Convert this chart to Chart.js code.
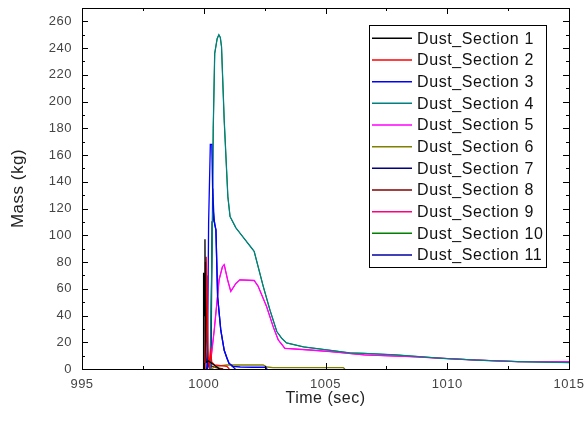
<!DOCTYPE html>
<html>
<head>
<meta charset="utf-8">
<script src="https://cdn.jsdelivr.net/npm/chart.js@4.4.1/dist/chart.umd.min.js"></script>
<style>
  body { margin: 0; background: #fff; }
  canvas { display: block; }
</style>
</head>
<body>
<canvas id="massChart" width="585" height="421"></canvas>
<script>
// series names + colours, in legend order
var sectionNames = ['Dust_Section 1', 'Dust_Section 2', 'Dust_Section 3', 'Dust_Section 4',
    'Dust_Section 5', 'Dust_Section 6', 'Dust_Section 7', 'Dust_Section 8',
    'Dust_Section 9', 'Dust_Section 10', 'Dust_Section 11'];
var sectionColors = ['#000000', '#ff0000', '#0000ff', '#008080', '#ff00ff', '#808000',
    '#000080', '#800000', '#ff0080', '#008000', '#0000a0'];

// axis ticks
var timeTicks = [995, 1000, 1005, 1010, 1015];
var massTicks = [0, 20, 40, 60, 80, 100, 120, 140, 160, 180, 200, 220, 240, 260];

// time (sec) / mass (kg)
var time1 = [999.97, 999.98, 999.99, 1000.01, 1000.03, 1000.05, 1000.07, 1000.1, 1000.2, 1000.35, 1000.5, 1000.65];
var mass1 = [0, 24, 5, 72, 40, 97, 30, 5, 6, 4, 2, 0];

var time2 = [1000.05, 1000.08, 1000.1, 1000.14, 1000.18, 1000.22, 1000.28, 1000.33, 1000.45, 1000.7, 1000.95, 1001.05];
var mass2 = [0, 60, 84, 50, 10, 3, 13, 5, 3, 2.5, 2, 0];

var time3 = [1000.15, 1000.2, 1000.27, 1000.33, 1000.38, 1000.45, 1000.5, 1000.57, 1000.7, 1000.84, 1000.95, 1001.04, 1001.2, 1001.5, 1002.0, 1002.55, 1002.6];
var mass3 = [0, 110, 168, 168, 120, 108, 104, 54, 29, 14, 8, 4.3, 2, 1.5, 1.3, 1.3, 0];

var time4 = [1000.26, 1000.35, 1000.39, 1000.45, 1000.55, 1000.62, 1000.68, 1000.73, 1000.84, 1000.99, 1001.08, 1001.32, 1001.6, 1001.9, 1002.07, 1002.44, 1002.72, 1003.0, 1003.2, 1003.4, 1004.1, 1005.2, 1006.0, 1006.6, 1007.9, 1009.8, 1011.2, 1012.9, 1015.0];
var mass4 = [0, 100, 180, 236, 247, 250, 248, 241, 186, 129, 114, 105.6, 99, 92, 88, 62, 44, 28, 23, 19.5, 16.5, 14, 12, 11.7, 10.5, 8, 6.7, 5.5, 4.8];

var time5 = [1000.25, 1000.43, 1000.63, 1000.77, 1000.84, 1000.98, 1001.11, 1001.32, 1001.48, 1002.07, 1002.23, 1002.58, 1002.85, 1003.06, 1003.33, 1004.36, 1005.2, 1006.6, 1008.5, 1011.2, 1012.9, 1015.0];
var mass5 = [0, 29, 66.7, 76.6, 78, 66.7, 58, 64, 66.7, 66.2, 62, 46.7, 31.7, 21.7, 15.5, 14.2, 13, 10.5, 9.2, 6.7, 5.5, 5.5];

var time6 = [1000.3, 1000.5, 1000.94, 1002.44, 1002.6, 1002.85, 1005.73, 1005.8];
var mass6 = [0, 2, 3, 3, 1.5, 1, 1, 0];

var time7 = [1000.12, 1000.15, 1000.18, 1000.25];
var mass7 = [0, 8, 3, 0];

var time8 = [1000.04, 1000.07, 1000.1, 1000.13, 1000.2, 1000.5, 1000.8];
var mass8 = [0, 80, 70, 20, 3, 1, 0];

var time9 = [1000.25, 1000.43, 1000.63, 1000.77, 1000.84, 1000.98, 1001.11, 1001.32, 1001.48, 1002.07, 1002.23, 1002.58, 1002.85, 1003.06, 1003.33, 1004.36, 1005.2, 1006.6, 1008.5, 1011.2, 1012.9, 1015.0];
var mass9 = [0, 29, 66.7, 76.6, 78, 66.7, 58, 64, 66.7, 66.2, 62, 46.7, 31.7, 21.7, 15.5, 14.2, 13, 10.5, 9.2, 6.7, 5.5, 5.5];

var time10 = [1000.26, 1000.35, 1000.39, 1000.45, 1000.55, 1000.62, 1000.68, 1000.73, 1000.84, 1000.99, 1001.08, 1001.32, 1001.6, 1001.9, 1002.07, 1002.44, 1002.72, 1003.0, 1003.2, 1003.4, 1004.1, 1005.2, 1006.0, 1006.6, 1007.9, 1009.8, 1011.2, 1012.9, 1015.0];
var mass10 = [0, 100, 180, 236, 247, 250, 248, 241, 186, 129, 114, 105.6, 99, 92, 88, 62, 44, 28, 23, 19.5, 16.5, 14, 12, 11.7, 10.5, 8, 6.7, 5.5, 4.8];

var time11 = [1000.3, 1000.34, 1000.37, 1000.42, 1000.5, 1000.57, 1000.7, 1000.84, 1001.04, 1001.3];
var mass11 = [0, 110, 135, 112, 104, 54, 29, 14, 4, 0];

var allTimes = [time1, time2, time3, time4, time5, time6, time7, time8, time9, time10, time11];
var allMasses = [mass1, mass2, mass3, mass4, mass5, mass6, mass7, mass8, mass9, mass10, mass11];
// 9 and 10 sit underneath 5 and 4
var hiddenUnder = [8, 9];

function makeDataset(i) {
    var pts = allTimes[i].map(function (t, k) { return { x: t, y: allMasses[i][k] }; });
    return {
        label: sectionNames[i],
        data: pts,
        borderColor: sectionColors[i],
        backgroundColor: sectionColors[i],
        borderWidth: hiddenUnder.indexOf(i) >= 0 ? 1 : 1.3,
        pointRadius: 0,
        tension: 0,
        fill: false
    };
}

var datasets = [];
for (var i = 0; i < sectionNames.length; i++) {
    datasets.push(makeDataset(i));
}

// frame + inward ticks on all four sides
var frameTicks = {
    id: 'frameTicks',
    afterDatasetsDraw: function (chart) {
        var ctx = chart.ctx;
        var a = chart.chartArea;
        var xs = chart.scales.x, ys = chart.scales.y;
        ctx.save();
        ctx.strokeStyle = '#000';
        ctx.lineWidth = 1;
        ctx.strokeRect(Math.round(a.left) + 0.5, Math.round(a.top) + 0.5,
            Math.round(a.right - a.left), Math.round(a.bottom - a.top));
        ctx.beginPath();
        for (var v = 995; v <= 1015; v += 2.5) {
            var px = Math.round(xs.getPixelForValue(v)) + 0.5;
            var len = (v % 5 === 0) ? 6 : 3;
            ctx.moveTo(px, a.bottom); ctx.lineTo(px, a.bottom - len);
            ctx.moveTo(px, a.top); ctx.lineTo(px, a.top + len);
        }
        for (var m = 0; m <= 270; m += 10) {
            var py = Math.round(ys.getPixelForValue(m)) + 0.5;
            var l2 = (m % 20 === 0) ? 6 : 3;
            ctx.moveTo(a.left, py); ctx.lineTo(a.left + l2, py);
            ctx.moveTo(a.right, py); ctx.lineTo(a.right - l2, py);
        }
        ctx.stroke();
        ctx.restore();
    }
};

// boxed legend inside the plot, top right
var boxLegend = {
    id: 'boxLegend',
    afterDraw: function (chart) {
        var ctx = chart.ctx;
        var left = 369.5, top = 25.5, w = 177, h = 242;
        ctx.save();
        ctx.fillStyle = '#fff';
        ctx.fillRect(left, top, w, h);
        ctx.strokeStyle = '#000';
        ctx.lineWidth = 1;
        ctx.strokeRect(left, top, w, h);
        ctx.font = '16px "Liberation Sans", Arial, sans-serif';
        ctx.letterSpacing = '0.6px';
        ctx.textBaseline = 'middle';
        chart.data.datasets.forEach(function (ds, k) {
            var y = 38.3 + k * 21.67;
            ctx.strokeStyle = ds.borderColor;
            ctx.lineWidth = 1.5;
            ctx.beginPath();
            ctx.moveTo(372, y); ctx.lineTo(412, y);
            ctx.stroke();
            ctx.fillStyle = '#111';
            ctx.fillText(ds.label, 417, y + 1);
        });
        ctx.restore();
    }
};

var spacing = {
    id: 'spacing',
    beforeDraw: function (chart) { chart.ctx.letterSpacing = '0.5px'; }
};

function useTicks(list) {
    return function (scale) {
        scale.ticks = list.map(function (v) { return { value: v }; });
    };
}

var ctx = document.getElementById('massChart').getContext('2d');
var massChart = new Chart(ctx, {
    type: 'line',
    data: { datasets: datasets },
    options: {
        responsive: false,
        animation: false,
        devicePixelRatio: 1,
        layout: { padding: { top: 8, right: 16, left: 0, bottom: 0 } },
        plugins: {
            legend: { display: false },
            tooltip: { enabled: false }
        },
        scales: {
            x: {
                type: 'linear',
                min: 995,
                max: 1015,
                grid: { display: false, drawTicks: false },
                border: { display: false },
                ticks: {
                    padding: 8,
                    color: '#444',
                    font: { family: '"Liberation Sans", Arial, sans-serif', size: 13 },
                    maxRotation: 0,
                    callback: function (v) { return String(v); }
                },
                afterBuildTicks: useTicks(timeTicks),
                title: {
                    display: true,
                    text: 'Time (sec)',
                    color: '#222',
                    font: { family: '"Liberation Sans", Arial, sans-serif', size: 16 },
                    padding: { top: 0, bottom: 13 }
                },
                afterFit: function (scale) {
                    scale.height = 52;
                    scale.paddingLeft = 0;
                    scale.paddingRight = 0;
                }
            },
            y: {
                type: 'linear',
                min: 0,
                max: 270,
                grid: { display: false, drawTicks: false },
                border: { display: false },
                ticks: {
                    padding: 10,
                    color: '#444',
                    font: { family: '"Liberation Sans", Arial, sans-serif', size: 13 },
                    callback: function (v) { return String(v); }
                },
                afterBuildTicks: useTicks(massTicks),
                title: {
                    display: true,
                    text: 'Mass (kg)',
                    color: '#222',
                    font: { family: '"Liberation Sans", Arial, sans-serif', size: 17 },
                    padding: { top: 8.5, bottom: 0 }
                },
                afterFit: function (scale) {
                    scale.width = 82;
                    scale.paddingTop = 0;
                    scale.paddingBottom = 0;
                }
            }
        }
    },
    plugins: [spacing, frameTicks, boxLegend]
});
</script>
</body>
</html>
